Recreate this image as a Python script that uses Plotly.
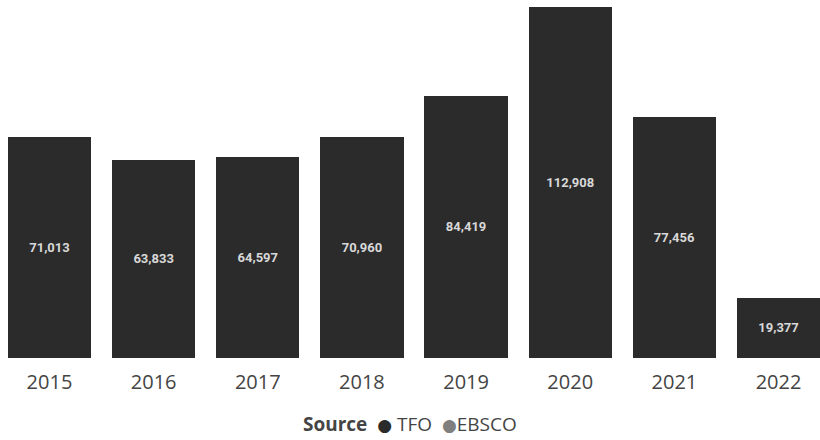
import plotly.graph_objects as go

# Yearly record counts by source
years = ["2015", "2016", "2017", "2018", "2019", "2020", "2021", "2022"]
tfo = [71013, 63833, 64597, 70960, 84419, 112908, 77456, 19377]
ebsco = [0, 0, 0, 0, 0, 0, 0, 0]

TFO_COLOR = "#2b2b2b"
EBSCO_COLOR = "#7f7f7f"

fig = go.Figure()

fig.add_trace(go.Bar(
    x=years, y=tfo, name="TFO", marker=dict(color=TFO_COLOR, line=dict(width=0)),
    text=[f"{v:,}" for v in tfo], textposition="inside", insidetextanchor="middle",
    textangle=0,
    textfont=dict(family="Liberation Sans Narrow, Roboto", size=13, color="#d8d8d8",
                  weight="bold"),
    showlegend=False,
))
fig.add_trace(go.Bar(
    x=years, y=ebsco, name="EBSCO", marker=dict(color=EBSCO_COLOR, line=dict(width=0)),
    showlegend=False,
))

# Compact legend line under the axis
dot = "<span style=\"color:{c};font-family:'DejaVu Sans';font-size:17px\">●</span>"
legend_text = (
    "<b>Source</b>&nbsp;&nbsp;"
    + dot.format(c=TFO_COLOR) + " TFO&nbsp;&nbsp;"
    + dot.format(c=EBSCO_COLOR) + "EBSCO"
)
fig.add_annotation(
    text=legend_text, xref="paper", yref="paper", x=0.5, y=-0.185,
    xanchor="center", yanchor="middle", showarrow=False,
    font=dict(family="Open Sans, Noto Sans", size=19, color="#444444"),
)

fig.update_layout(
    width=820, height=440,
    margin=dict(l=0, r=0, t=0, b=82),
    paper_bgcolor="white", plot_bgcolor="white",
    barmode="stack", bargap=0.2, showlegend=False,
    uniformtext=dict(minsize=8, mode="show"),
    font=dict(family="Open Sans, Noto Sans", color="#444444"),
    xaxis=dict(
        type="category", range=[-0.475, 7.398], showgrid=False, showline=False,
        zeroline=False, ticks="outside", ticklen=6, tickcolor="rgba(0,0,0,0)",
        tickfont=dict(size=20, color="#444444"),
    ),
    yaxis=dict(range=[0, 115150], visible=False, showgrid=False, zeroline=False),
)

fig.write_html("out.html")
